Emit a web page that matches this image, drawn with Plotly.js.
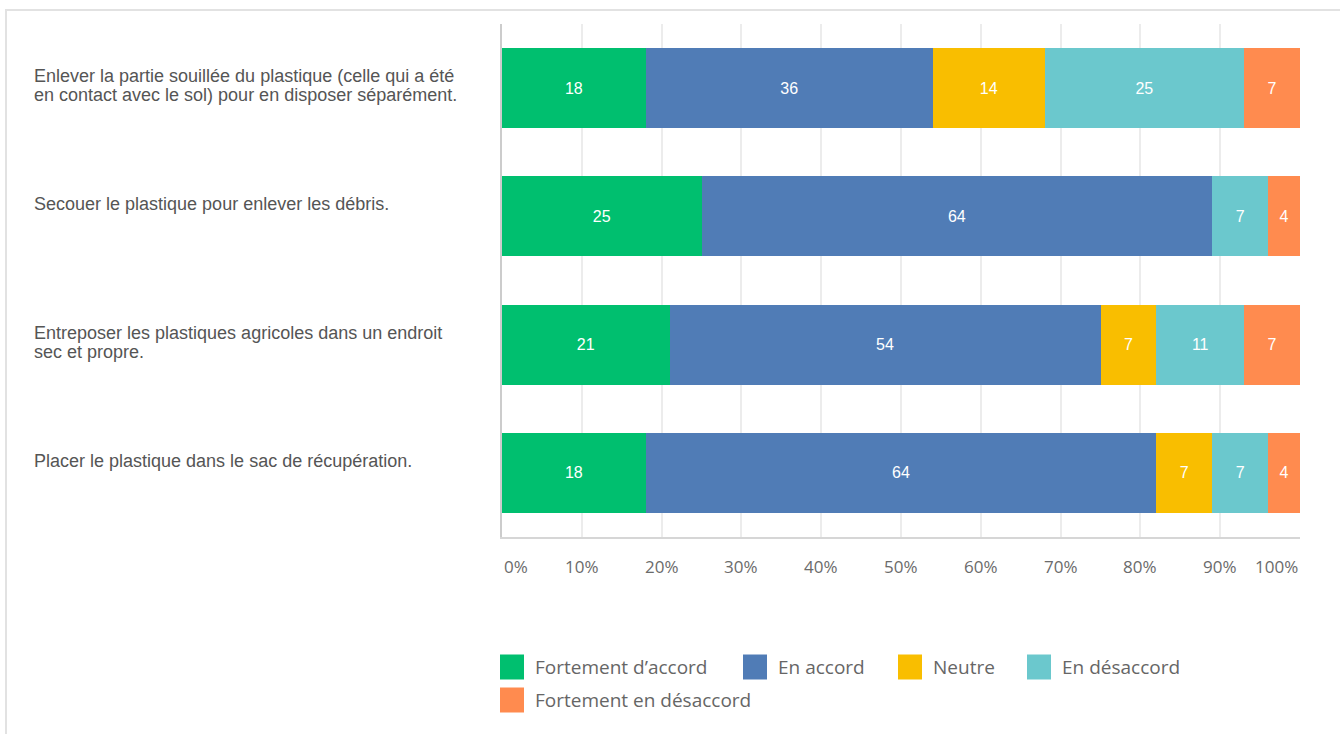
<!DOCTYPE html>
<html>
<head>
<meta charset="utf-8">
<script src="https://cdn.plot.ly/plotly-3.0.1.min.js"></script>
<style>
  html, body { margin: 0; padding: 0; background: #fff; }
  #wrap { position: relative; width: 1340px; height: 734px; overflow: hidden; }
  #frame { position: absolute; left: 5px; top: 9px; right: -2px; bottom: -2px;
           border-top: 2px solid #e2e2e2; border-left: 2px solid #e2e2e2; pointer-events: none; }
  #chart { position: absolute; left: 0; top: 0; width: 1340px; height: 734px; }
</style>
</head>
<body>
<div id="wrap">
  <div id="chart"></div>
  <div id="frame"></div>
</div>
<script>
// ---- data ----
const categories = [
  "Enlever la partie souillée du plastique (celle qui a été<br>en contact avec le sol) pour en disposer séparément.",
  "Secouer le plastique pour enlever les débris.",
  "Entreposer les plastiques agricoles dans un endroit<br>sec et propre.",
  "Placer le plastique dans le sac de récupération."
];
const seriesNames = ["Fortement d\u2019accord", "En accord", "Neutre", "En désaccord", "Fortement en désaccord"];
const fortementAccord    = [18, 25, 21, 18];
const enAccord           = [36, 64, 54, 64];
const neutre             = [14, 0, 7, 7];
const enDesaccord        = [25, 7, 11, 7];
const fortementDesaccord = [7, 4, 7, 4];
const tickValues = [0, 10, 20, 30, 40, 50, 60, 70, 80, 90, 100];
const tickLabels = ["0%", "10%", "20%", "30%", "40%", "50%", "60%", "70%", "80%", "90%", "100%"];

// ---- styles ----
const colors = ["#00BF6F", "#507CB6", "#F9BE00", "#6BC8CD", "#FF8B4F"];
const seriesValues = [fortementAccord, enAccord, neutre, enDesaccord, fortementDesaccord];

const W = 1340, H = 734;
const M = { l: 502, r: 40, t: 24, b: 197 };
const PW = W - M.l - M.r, PH = H - M.t - M.b;
const px = x => (x - M.l) / PW;          // pixel -> paper x
const py = y => (H - M.b - y) / PH;      // pixel -> paper y

const traces = seriesValues.map((vals, i) => ({
  type: "bar",
  orientation: "h",
  name: seriesNames[i],
  y: categories,
  x: vals.map(v => (v === 0 ? null : v)),
  text: vals.map(v => (v ? String(v) : "")),
  textposition: "inside",
  insidetextanchor: "middle",
  constraintext: "none",
  textangle: 0,
  textfont: { family: "Liberation Sans, Arial, sans-serif", size: 16, color: "#ffffff" },
  marker: { color: colors[i], line: { width: 0 } },
  hoverinfo: "skip",
  showlegend: false
}));

const annotations = [];
// category labels (left, left-aligned), one annotation per line for tight spacing
const LINE = 19;
categories.forEach(c => {
  c.split("<br>").forEach((line, k) => {
    annotations.push({
      xref: "paper", yref: "y", x: px(32), y: c,
      xanchor: "left", yanchor: "middle", align: "left",
      yshift: 12 - k * LINE,
      text: line, showarrow: false,
      font: { family: "Liberation Sans, Arial, sans-serif", size: 18, color: "#555555" }
    });
  });
});
// x tick labels
tickValues.forEach((v, i) => {
  annotations.push({
    xref: "x", yref: "paper", x: v, y: 0, yshift: -29,
    xanchor: i === 0 ? "left" : (i === tickValues.length - 1 ? "right" : "center"),
    yanchor: "middle",
    text: tickLabels[i], showarrow: false,
    font: { family: "Open Sans, sans-serif", size: 17, color: "#6b6b6b" }
  });
});
// legend
const legendPos = [[500, 667], [743, 667], [898, 667], [1027, 667], [500, 700]];
const shapes = [];
seriesNames.forEach((n, i) => {
  const [lx, ly] = legendPos[i];
  shapes.push({
    type: "rect", xref: "paper", yref: "paper",
    x0: px(lx), x1: px(lx + 24), y0: py(ly + 12.5), y1: py(ly - 12.5),
    fillcolor: colors[i], line: { width: 0 }
  });
  annotations.push({
    xref: "paper", yref: "paper", x: px(lx + 33), y: py(ly),
    xanchor: "left", yanchor: "middle", text: n, showarrow: false,
    font: { family: "Open Sans, sans-serif", size: 19, color: "#666666" }
  });
});

const layout = {
  width: W, height: H,
  margin: M,
  barmode: "stack",
  bargap: 0.375,
  paper_bgcolor: "#ffffff",
  plot_bgcolor: "#ffffff",
  showlegend: false,
  xaxis: {
    range: [0, 100], tickvals: tickValues, showticklabels: false,
    showgrid: true, gridcolor: "#ececec", gridwidth: 2,
    zeroline: false, showline: true, linecolor: "#d6d6d6", linewidth: 2,
    ticks: "", fixedrange: true
  },
  yaxis: {
    autorange: false, range: [3.5, -0.5], type: "category",
    showticklabels: false, showgrid: false, zeroline: false,
    showline: true, linecolor: "#cccccc", linewidth: 2, ticks: "", fixedrange: true
  },
  annotations: annotations,
  shapes: shapes
};

Plotly.newPlot("chart", traces, layout, { displayModeBar: false, staticPlot: true });
</script>
</body>
</html>
